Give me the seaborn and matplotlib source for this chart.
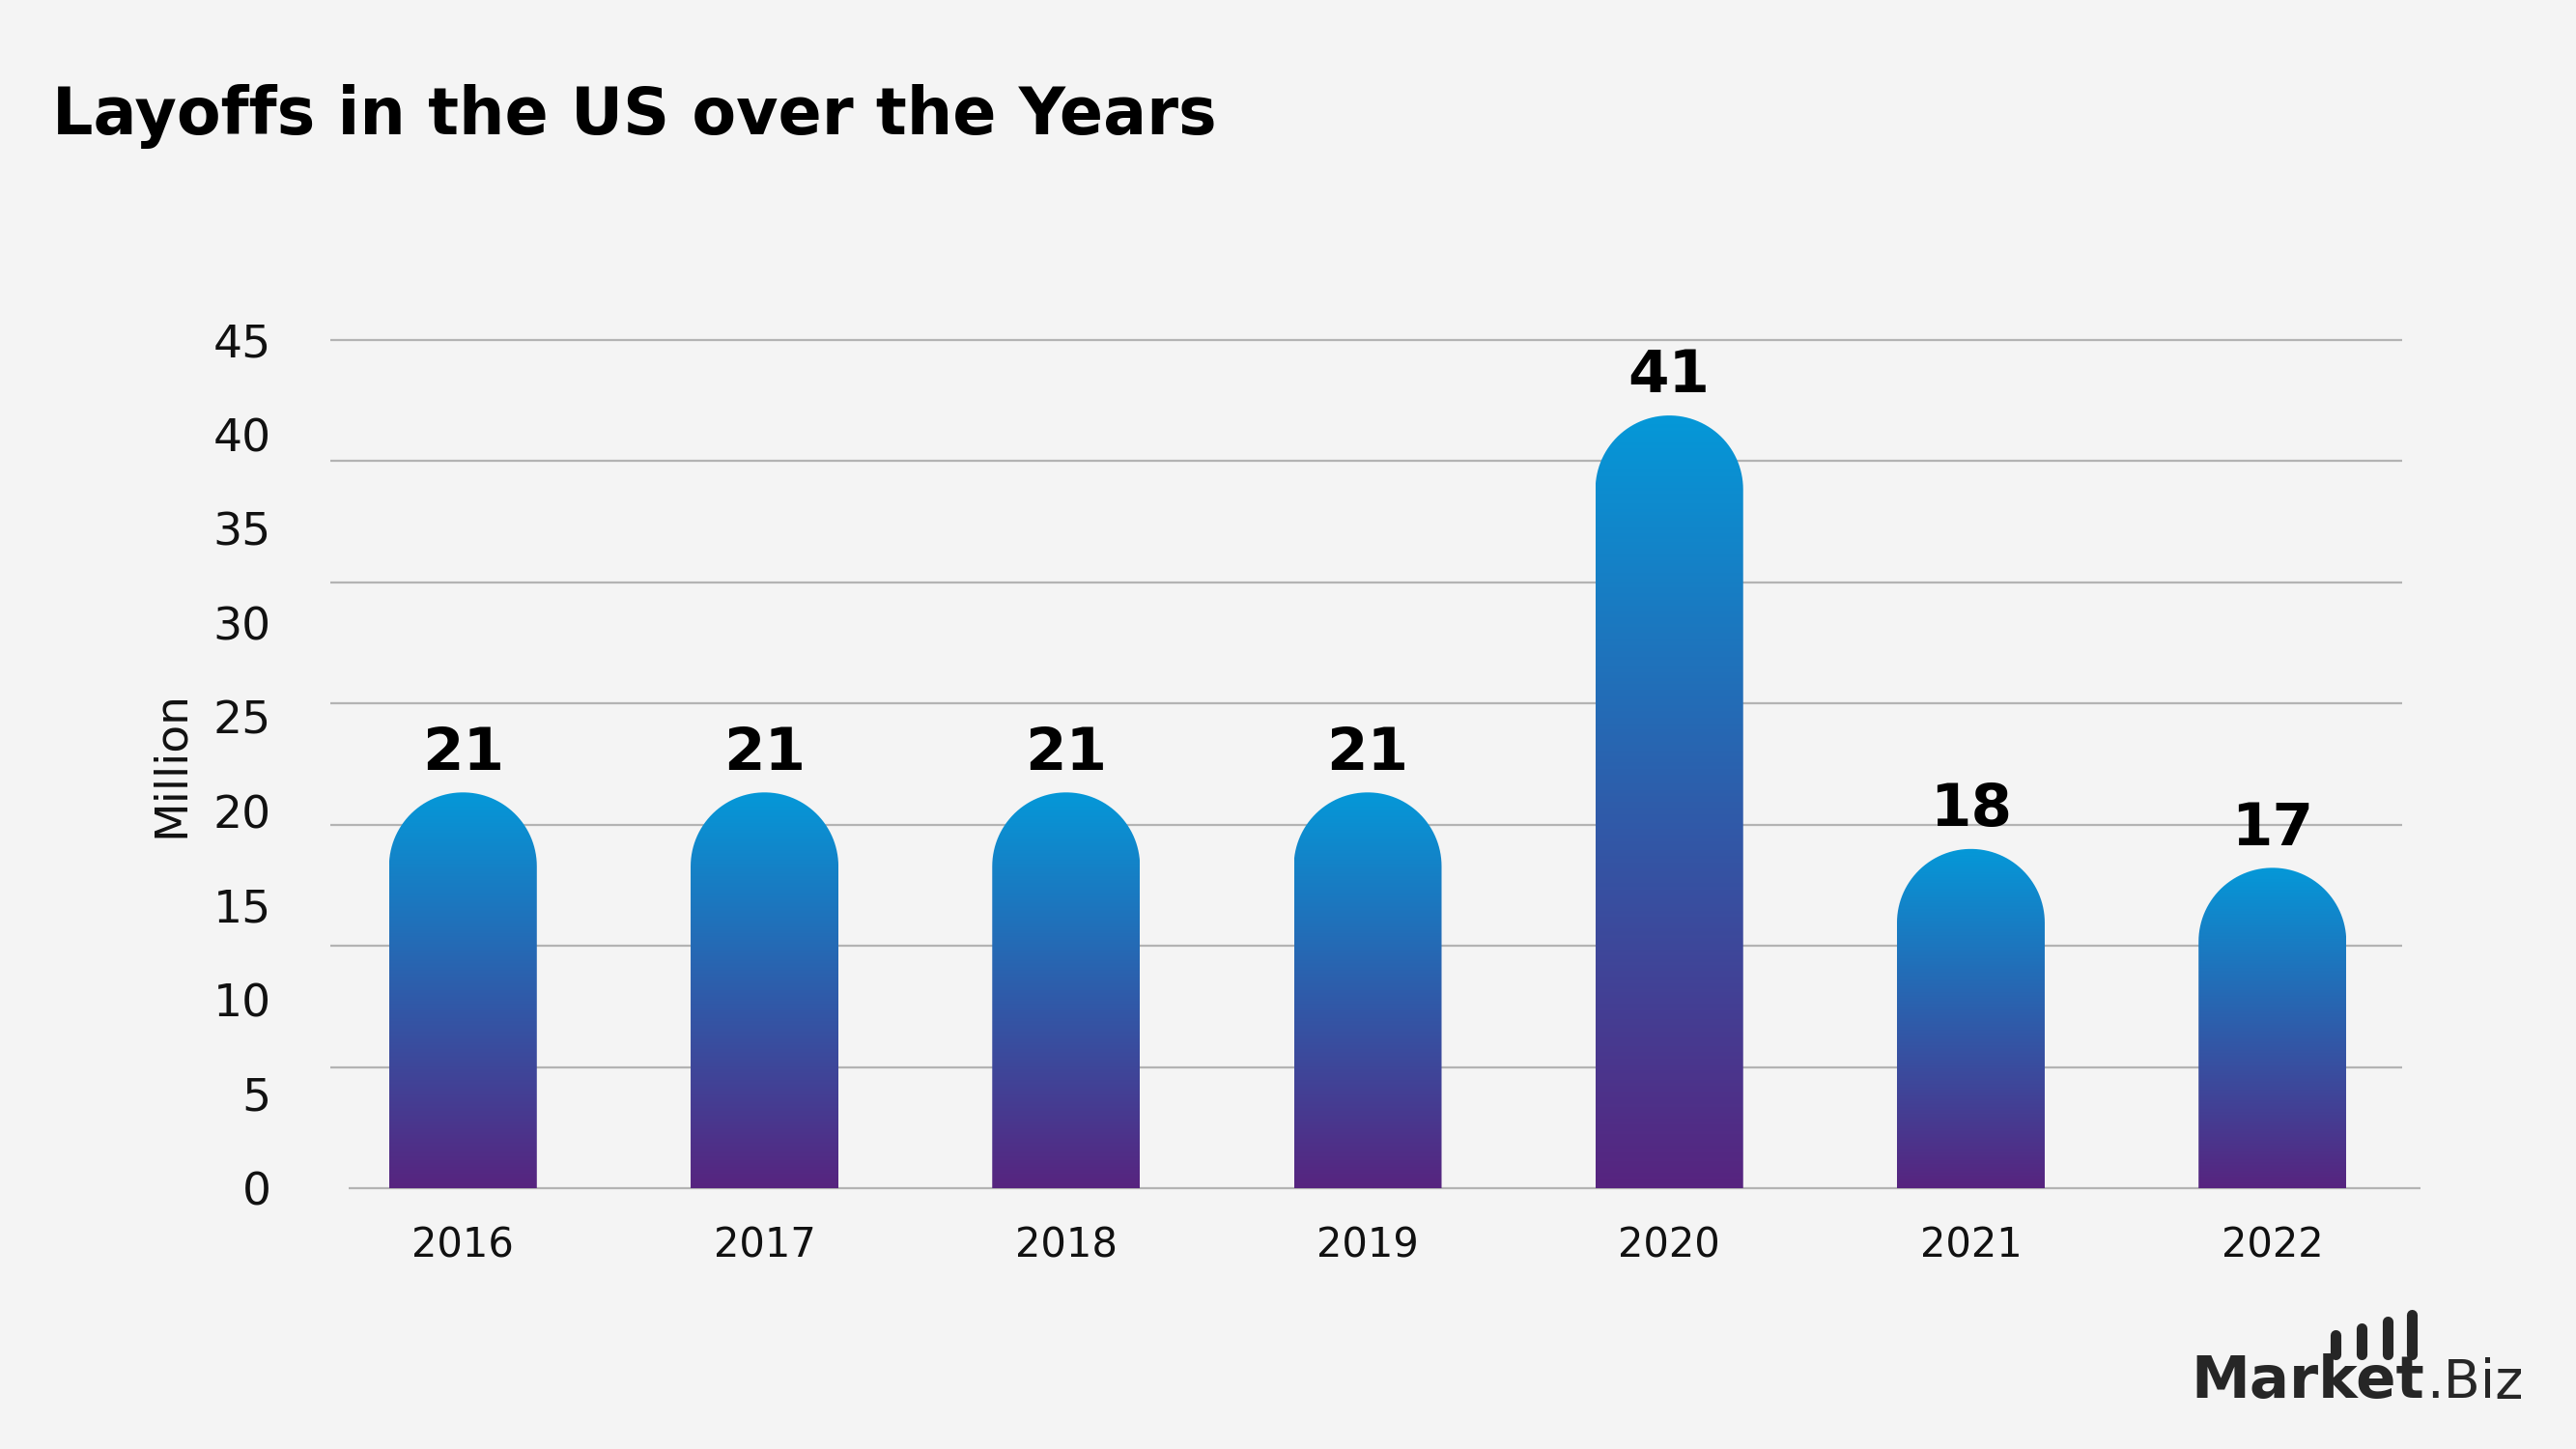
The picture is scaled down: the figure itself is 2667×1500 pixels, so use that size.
import numpy as np
import pandas as pd
import matplotlib.pyplot as plt
from matplotlib.colors import LinearSegmentedColormap
from matplotlib.patches import Polygon
from matplotlib.lines import Line2D
import seaborn as sns

# Data
years = ['2016', '2017', '2018', '2019', '2020', '2021', '2022']
layoffs = [21, 21, 21, 21, 41, 18, 17]
y_ticks = [0, 5, 10, 15, 20, 25, 30, 35, 40, 45]


def main():
    bg = '#f4f4f4'
    sns.set_style('white', {'axes.facecolor': bg, 'figure.facecolor': bg})
    plt.rcParams['font.family'] = ['DejaVu Sans']

    fig = plt.figure(figsize=(26.67, 15), dpi=100)
    ax = fig.add_axes([0.1282, 0.18, 0.8043, 0.5853])

    df = pd.DataFrame({'year': years, 'layoffs': layoffs})
    sns.barplot(data=df, x='year', y='layoffs', ax=ax, width=0.49, color='#2e5dab')

    xlim = (-0.44, 6.43)
    ax.set_xlim(*xlim)
    ax.set_ylim(0, 45)

    # gridlines split the 0-45 range in 7 parts, baseline drawn separately
    ax.hlines(np.linspace(0, 45, 8)[1:], xlim[0], xlim[1], color='#b3b3b3', lw=1.6, zorder=1, clip_on=False)
    ax.hlines(0, -0.38, 6.49, color='#b3b3b3', lw=1.6, zorder=1, clip_on=False)

    # turn the seaborn bars into gradient bars with round tops
    cmap = LinearSegmentedColormap.from_list('bar', ['#57247f', '#2e5dab', '#0598d8'])
    grad = np.linspace(0, 1, 256).reshape(-1, 1)
    px_per_x = ax.transData.transform((1, 0))[0] - ax.transData.transform((0, 0))[0]
    px_per_y = ax.transData.transform((0, 1))[1] - ax.transData.transform((0, 0))[1]
    for p in list(ax.patches):
        x0, w, h = p.get_x(), p.get_width(), p.get_height()
        p.set_visible(False)
        rx = w / 2
        ry = rx * px_per_x / px_per_y
        cx = x0 + rx
        t = np.linspace(np.pi, 0, 60)
        pts = [(x0, 0), (x0, h - ry)]
        pts += list(zip(cx + rx * np.cos(t), h - ry + ry * np.sin(t)))
        pts += [(x0 + w, h - ry), (x0 + w, 0)]
        shape = Polygon(pts, closed=True, fill=False, lw=0)
        ax.add_patch(shape)
        im = ax.imshow(grad, extent=[x0, x0 + w, 0, h], origin='lower', cmap=cmap,
                       aspect='auto', zorder=3)
        im.set_clip_path(shape)
        ax.annotate(f'{h:.0f}', (cx, h), xytext=(0, 17), textcoords='offset points',
                    ha='center', va='baseline', fontsize=44, fontweight='bold', color='#000000')

    ax.set_xlim(*xlim)
    ax.set_ylim(0, 45)

    ax.set_yticks(y_ticks)
    ax.tick_params(axis='y', length=0, pad=44, labelsize=34, labelcolor='#111111')
    ax.tick_params(axis='x', length=0, pad=28, labelsize=30, labelcolor='#111111')
    ax.set_xlabel('')
    ax.set_ylabel('Million', fontsize=34, color='#111111')
    ax.yaxis.set_label_coords(-0.066, 0.5)
    sns.despine(ax=ax, left=True, bottom=True)

    fig.text(0.0202, 0.907, 'Layoffs in the US over the Years', fontsize=48,
             fontweight='bold', va='baseline', ha='left', color='#000000')

    # logo
    fig.text(2268 / 2667, 1 - 1447 / 1500, 'Market', fontsize=44, fontweight='bold',
             color='#262626', va='baseline', ha='left')
    fig.text(2613 / 2667, 1 - 1447 / 1500, '.Biz', fontsize=40, color='#262626',
             va='baseline', ha='right')
    for bx, top in [(2418, 1382), (2445, 1375), (2472, 1368), (2497, 1361)]:
        fig.add_artist(Line2D([bx / 2667, bx / 2667], [1 - 1402 / 1500, 1 - top / 1500],
                              color='#262626', lw=8, solid_capstyle='round',
                              transform=fig.transFigure))

    plt.savefig('out.png', dpi=100, facecolor=bg)


if __name__ == "__main__":
    main()
